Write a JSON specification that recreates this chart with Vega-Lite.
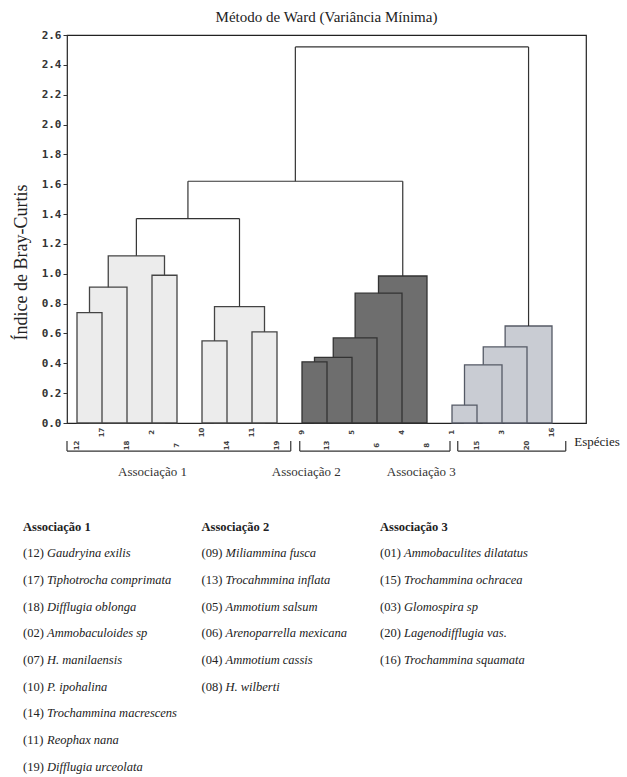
{
  "$schema": "https://vega.github.io/schema/vega-lite/v6.json",
  "width": 519,
  "height": 388,
  "autosize": {"type": "none"},
  "padding": {"left": 67, "top": 35, "right": 41, "bottom": 354},
  "background": "white",
  "config": {
    "font": "Liberation Serif",
    "view": {"stroke": "#222", "strokeWidth": 1.2},
    "axisY": {
      "titleFont": "Liberation Serif",
      "titleFontSize": 18,
      "titleFontWeight": "normal",
      "titleColor": "#222",
      "titleX": -46,
      "titleY": 227,
      "titleBaseline": "middle",
      "labelFont": "DejaVu Sans Mono",
      "labelFontWeight": "bold",
      "labelFontSize": 11,
      "labelColor": "#333",
      "labelPadding": 2,
      "labelOverlap": false,
      "labelFlush": false,
      "format": ".1f",
      "tickSize": 4,
      "tickColor": "#333",
      "domain": false,
      "grid": false
    }
  },
  "title": {
    "text": "Método de Ward (Variância Mínima)",
    "font": "Liberation Serif",
    "fontSize": 15,
    "fontWeight": "normal",
    "color": "#222",
    "anchor": "middle",
    "offset": 4
  },
  "datasets": {
    "bars": [
      {"assoc": "1", "x1": 1.25, "x2": 3.5, "h": 1.12},
      {"assoc": "1", "x1": 3, "x2": 4, "h": 0.99},
      {"assoc": "2", "x1": 12.06, "x2": 14, "h": 0.985},
      {"assoc": "1", "x1": 0.5, "x2": 2, "h": 0.91},
      {"assoc": "2", "x1": 11.125, "x2": 13, "h": 0.87},
      {"assoc": "1", "x1": 5.5, "x2": 7.5, "h": 0.78},
      {"assoc": "1", "x1": 0, "x2": 1, "h": 0.74},
      {"assoc": "3", "x1": 17.125, "x2": 19, "h": 0.65},
      {"assoc": "1", "x1": 7, "x2": 8, "h": 0.61},
      {"assoc": "2", "x1": 10.25, "x2": 12, "h": 0.57},
      {"assoc": "1", "x1": 5, "x2": 6, "h": 0.55},
      {"assoc": "3", "x1": 16.25, "x2": 18, "h": 0.51},
      {"assoc": "2", "x1": 9.5, "x2": 11, "h": 0.44},
      {"assoc": "2", "x1": 9, "x2": 10, "h": 0.41},
      {"assoc": "3", "x1": 15.5, "x2": 17, "h": 0.39},
      {"assoc": "3", "x1": 15, "x2": 16, "h": 0.12}
    ],
    "links": [
      {"x1": 2.375, "x2": 2.375, "y1": 1.12, "y2": 1.37},
      {"x1": 6.5, "x2": 6.5, "y1": 0.78, "y2": 1.37},
      {"x1": 2.375, "x2": 6.5, "y1": 1.37, "y2": 1.37},
      {"x1": 4.4375, "x2": 4.4375, "y1": 1.37, "y2": 1.62},
      {"x1": 13.03, "x2": 13.03, "y1": 0.985, "y2": 1.62},
      {"x1": 4.4375, "x2": 13.03, "y1": 1.62, "y2": 1.62},
      {"x1": 8.734, "x2": 8.734, "y1": 1.62, "y2": 2.52},
      {"x1": 18.0625, "x2": 18.0625, "y1": 0.65, "y2": 2.52},
      {"x1": 8.734, "x2": 18.0625, "y1": 2.52, "y2": 2.52}
    ],
    "leaves": [
      {"idx": 0, "sp": "12"}, {"idx": 1, "sp": "17"}, {"idx": 2, "sp": "18"},
      {"idx": 3, "sp": "2"}, {"idx": 4, "sp": "7"}, {"idx": 5, "sp": "10"},
      {"idx": 6, "sp": "14"}, {"idx": 7, "sp": "11"}, {"idx": 8, "sp": "19"},
      {"idx": 9, "sp": "9"}, {"idx": 10, "sp": "13"}, {"idx": 11, "sp": "5"},
      {"idx": 12, "sp": "6"}, {"idx": 13, "sp": "4"}, {"idx": 14, "sp": "8"},
      {"idx": 15, "sp": "1"}, {"idx": 16, "sp": "15"}, {"idx": 17, "sp": "3"},
      {"idx": 18, "sp": "20"}, {"idx": 19, "sp": "16"}
    ],
    "groups": [
      {"label": "Associação 1", "start": -0.4, "end": 8.55, "labelAt": 3.02},
      {"label": "Associação 2", "start": 8.91, "end": 14.92, "labelAt": 9.17},
      {"label": "Associação 3", "start": 15.23, "end": 19.55, "labelAt": 13.77}
    ],
    "heads": [
      {"col": 0, "row": 0, "label": "Associação 1"},
      {"col": 1, "row": 0, "label": "Associação 2"},
      {"col": 2, "row": 0, "label": "Associação 3"}
    ],
    "species": [
      {"col": 0, "row": 1, "num": "(12)", "name": "Gaudryina exilis"},
      {"col": 0, "row": 2, "num": "(17)", "name": "Tiphotrocha comprimata"},
      {"col": 0, "row": 3, "num": "(18)", "name": "Difflugia oblonga"},
      {"col": 0, "row": 4, "num": "(02)", "name": "Ammobaculoides sp"},
      {"col": 0, "row": 5, "num": "(07)", "name": "H. manilaensis"},
      {"col": 0, "row": 6, "num": "(10)", "name": "P. ipohalina"},
      {"col": 0, "row": 7, "num": "(14)", "name": "Trochammina macrescens"},
      {"col": 0, "row": 8, "num": "(11)", "name": "Reophax nana"},
      {"col": 0, "row": 9, "num": "(19)", "name": "Difflugia urceolata"},
      {"col": 1, "row": 1, "num": "(09)", "name": "Miliammina fusca"},
      {"col": 1, "row": 2, "num": "(13)", "name": "Trocahmmina inflata"},
      {"col": 1, "row": 3, "num": "(05)", "name": "Ammotium salsum"},
      {"col": 1, "row": 4, "num": "(06)", "name": "Arenoparrella mexicana"},
      {"col": 1, "row": 5, "num": "(04)", "name": "Ammotium cassis"},
      {"col": 1, "row": 6, "num": "(08)", "name": "H. wilberti"},
      {"col": 2, "row": 1, "num": "(01)", "name": "Ammobaculites dilatatus"},
      {"col": 2, "row": 2, "num": "(15)", "name": "Trochammina ochracea"},
      {"col": 2, "row": 3, "num": "(03)", "name": "Glomospira sp"},
      {"col": 2, "row": 4, "num": "(20)", "name": "Lagenodifflugia vas."},
      {"col": 2, "row": 5, "num": "(16)", "name": "Trochammina squamata"}
    ]
  },
  "layer": [
    {
      "layer": [
        {
          "data": {"name": "bars"},
          "mark": {"type": "rect", "strokeWidth": 1.3},
          "encoding": {
            "x": {"field": "x1", "type": "quantitative",
                  "scale": {"domain": [-0.4, 20.36], "nice": false, "zero": false},
                  "axis": null},
            "x2": {"field": "x2"},
            "y": {"field": "h", "type": "quantitative",
                  "scale": {"domain": [0, 2.6], "nice": false, "zero": false},
                  "axis": {"title": "Índice de Bray-Curtis", "values": [0, 0.2, 0.4, 0.6, 0.8, 1.0, 1.2, 1.4, 1.6, 1.8, 2.0, 2.2, 2.4, 2.6]}},
            "y2": {"datum": 0},
            "fill": {"field": "assoc", "type": "nominal",
                     "scale": {"domain": ["1", "2", "3"], "range": ["#ececec", "#6e6e6e", "#c9ccd3"]},
                     "legend": null},
            "stroke": {"field": "assoc", "type": "nominal",
                       "scale": {"domain": ["1", "2", "3"], "range": ["#444444", "#333333", "#555a66"]},
                       "legend": null}
          }
        },
        {
          "data": {"name": "links"},
          "mark": {"type": "rule", "color": "#333", "strokeWidth": 1.2},
          "encoding": {
            "x": {"field": "x1", "type": "quantitative"},
            "x2": {"field": "x2"},
            "y": {"field": "y1", "type": "quantitative",
                  "axis": {"title": "Índice de Bray-Curtis", "values": [0, 0.2, 0.4, 0.6, 0.8, 1.0, 1.2, 1.4, 1.6, 1.8, 2.0, 2.2, 2.4, 2.6]}},
            "y2": {"field": "y2"}
          }
        },
        {
          "data": {"name": "leaves"},
          "transform": [{"filter": "datum.idx % 2 == 1"}],
          "mark": {"type": "text", "angle": 270, "fontSize": 7, "font": "DejaVu Sans", "fontWeight": "bold", "color": "#444", "align": "center", "baseline": "middle"},
          "encoding": {
            "x": {"field": "idx", "type": "quantitative"},
            "y": {"datum": -0.063, "axis": {"title": "Índice de Bray-Curtis", "values": [0, 0.2, 0.4, 0.6, 0.8, 1.0, 1.2, 1.4, 1.6, 1.8, 2.0, 2.2, 2.4, 2.6]}},
            "text": {"field": "sp"}
          }
        },
        {
          "data": {"name": "leaves"},
          "transform": [{"filter": "datum.idx % 2 == 0"}],
          "mark": {"type": "text", "angle": 270, "fontSize": 7, "font": "DejaVu Sans", "fontWeight": "bold", "color": "#444", "align": "center", "baseline": "middle"},
          "encoding": {
            "x": {"field": "idx", "type": "quantitative"},
            "y": {"datum": -0.15, "axis": {"title": "Índice de Bray-Curtis", "values": [0, 0.2, 0.4, 0.6, 0.8, 1.0, 1.2, 1.4, 1.6, 1.8, 2.0, 2.2, 2.4, 2.6]}},
            "text": {"field": "sp"}
          }
        },
        {
          "data": {"name": "groups"},
          "mark": {"type": "rule", "color": "#333", "strokeWidth": 1.2},
          "encoding": {
            "x": {"field": "start", "type": "quantitative"},
            "x2": {"field": "end"},
            "y": {"datum": -0.188, "axis": {"title": "Índice de Bray-Curtis", "values": [0, 0.2, 0.4, 0.6, 0.8, 1.0, 1.2, 1.4, 1.6, 1.8, 2.0, 2.2, 2.4, 2.6]}}
          }
        },
        {
          "data": {"name": "groups"},
          "mark": {"type": "rule", "color": "#333", "strokeWidth": 1.2},
          "encoding": {
            "x": {"field": "start", "type": "quantitative"},
            "y": {"datum": -0.188, "axis": {"title": "Índice de Bray-Curtis", "values": [0, 0.2, 0.4, 0.6, 0.8, 1.0, 1.2, 1.4, 1.6, 1.8, 2.0, 2.2, 2.4, 2.6]}},
            "y2": {"datum": -0.12}
          }
        },
        {
          "data": {"name": "groups"},
          "mark": {"type": "rule", "color": "#333", "strokeWidth": 1.2},
          "encoding": {
            "x": {"field": "end", "type": "quantitative"},
            "y": {"datum": -0.188, "axis": {"title": "Índice de Bray-Curtis", "values": [0, 0.2, 0.4, 0.6, 0.8, 1.0, 1.2, 1.4, 1.6, 1.8, 2.0, 2.2, 2.4, 2.6]}},
            "y2": {"datum": -0.12}
          }
        },
        {
          "data": {"name": "groups"},
          "mark": {"type": "text", "font": "Liberation Serif", "fontSize": 13, "color": "#333", "align": "center", "baseline": "middle"},
          "encoding": {
            "x": {"field": "labelAt", "type": "quantitative"},
            "y": {"datum": -0.33, "axis": {"title": "Índice de Bray-Curtis", "values": [0, 0.2, 0.4, 0.6, 0.8, 1.0, 1.2, 1.4, 1.6, 1.8, 2.0, 2.2, 2.4, 2.6]}},
            "text": {"field": "label"}
          }
        },
        {
          "data": {"values": [{"t": "Espécies"}]},
          "mark": {"type": "text", "font": "Liberation Serif", "fontSize": 13, "color": "#222", "align": "left", "baseline": "middle"},
          "encoding": {
            "x": {"datum": 19.89},
            "y": {"datum": -0.13, "axis": {"title": "Índice de Bray-Curtis", "values": [0, 0.2, 0.4, 0.6, 0.8, 1.0, 1.2, 1.4, 1.6, 1.8, 2.0, 2.2, 2.4, 2.6]}},
            "text": {"field": "t"}
          }
        }
      ]
    },
    {
      "layer": [
        {
          "data": {"name": "heads"},
          "mark": {"type": "text", "font": "Liberation Serif", "fontSize": 12.5, "fontWeight": "bold", "color": "#222", "align": "left", "baseline": "middle"},
          "encoding": {
            "x": {"field": "col", "type": "quantitative",
                  "scale": {"domain": [0.2465, 3.1541], "nice": false, "zero": false}, "axis": null},
            "y": {"field": "row", "type": "quantitative",
                  "scale": {"domain": [-18.443, -3.89], "reverse": true, "nice": false, "zero": false}, "axis": null},
            "text": {"field": "label"}
          }
        },
        {
          "data": {"name": "species"},
          "mark": {"type": "text", "font": "Liberation Serif", "fontSize": 12.5, "color": "#222", "align": "left", "baseline": "middle"},
          "encoding": {
            "x": {"field": "col", "type": "quantitative", "axis": null},
            "y": {"field": "row", "type": "quantitative", "axis": null},
            "text": {"field": "num"}
          }
        },
        {
          "data": {"name": "species"},
          "mark": {"type": "text", "font": "Liberation Serif", "fontSize": 12.5, "fontStyle": "italic", "color": "#222", "align": "left", "baseline": "middle", "dx": 24},
          "encoding": {
            "x": {"field": "col", "type": "quantitative", "axis": null},
            "y": {"field": "row", "type": "quantitative", "axis": null},
            "text": {"field": "name"}
          }
        }
      ]
    }
  ],
  "resolve": {"scale": {"x": "independent", "y": "independent"}}
}
